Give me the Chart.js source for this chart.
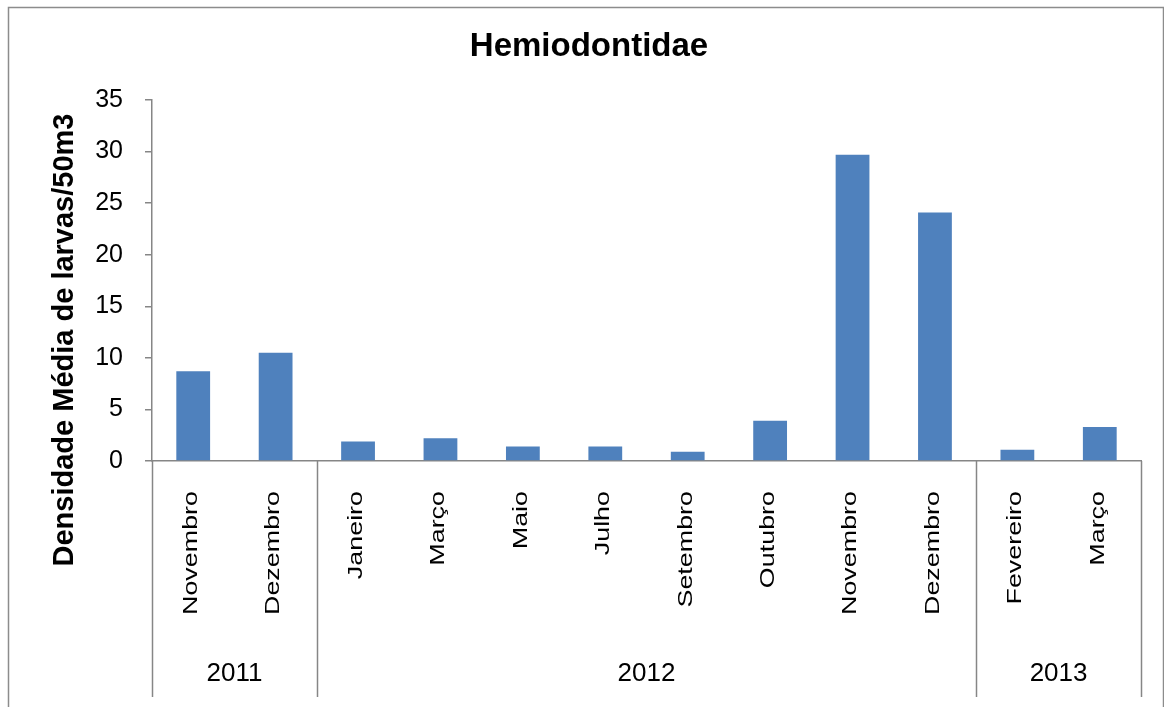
<!DOCTYPE html>
<html lang="pt">
<head>
<meta charset="utf-8">
<title>Hemiodontidae</title>
<script src="https://cdn.jsdelivr.net/npm/chart.js@4"></script>
<style>
    html, body { margin: 0; padding: 0; background: #fff; }
    canvas { display: block; }
</style>
</head>
<body>
<canvas id="densChart" width="1164" height="707"></canvas>
<script>
// meses amostrados e densidade média (larvas/50m3)
const meses = ['Novembro', 'Dezembro', 'Janeiro', 'Março', 'Maio', 'Julho',
    'Setembro', 'Outubro', 'Novembro', 'Dezembro', 'Fevereiro', 'Março'];
const densidade = [8.7, 10.5, 1.9, 2.2, 1.4, 1.4, 0.9, 3.9, 29.7, 24.1, 1.1, 3.3];

// agrupamento dos meses por ano
const anos = ['2011', '2012', '2013'];
const mesesPorAno = [2, 8, 2];

const eixoY = { min: 0, max: 35, passo: 5 };

const titulo = 'Hemiodontidae';
const tituloEixoY = 'Densidade Média de larvas/50m3';

const corEixo = '#868686';
const fonte = '"Liberation Sans", Arial, sans-serif';

// título, rótulos em dois níveis (mês / ano) e moldura externa
const eixoCategorias = {
    id: 'eixoCategorias',
    afterDraw(chart) {
        const ctx = chart.ctx;
        const x = chart.scales.x;
        const area = chart.chartArea;
        const base = area.bottom;
        const fundo = 697;

        ctx.save();

        // moldura
        ctx.strokeStyle = '#8c8c8c';
        ctx.lineWidth = 1.5;
        ctx.strokeRect(8.5, 7.5, 1155, 720);

        // título
        ctx.fillStyle = '#000';
        ctx.font = 'bold 33px ' + fonte;
        ctx.textAlign = 'center';
        ctx.textBaseline = 'middle';
        ctx.fillText(titulo, 589, 47);

        // linhas separadoras dos anos
        ctx.strokeStyle = corEixo;
        ctx.lineWidth = 1.5;
        let idx = 0;
        const passoX = x.getPixelForValue(1) - x.getPixelForValue(0);
        const divisorias = [x.getPixelForValue(0) - passoX / 2];
        mesesPorAno.forEach(n => {
            idx += n;
            divisorias.push(x.getPixelForValue(idx - 1) + passoX / 2);
        });
        divisorias.forEach(px => {
            ctx.beginPath();
            ctx.moveTo(Math.round(px) + 0.5, base);
            ctx.lineTo(Math.round(px) + 0.5, fundo);
            ctx.stroke();
        });

        // meses, girados
        ctx.font = '21px ' + fonte;
        ctx.textAlign = 'right';
        meses.forEach((m, i) => {
            ctx.save();
            ctx.translate(x.getPixelForValue(i) - 2, 491);
            ctx.rotate(-Math.PI / 2);
            ctx.scale(1.28, 1);
            ctx.fillText(m, 0, 0);
            ctx.restore();
        });

        // anos
        ctx.font = '26px ' + fonte;
        ctx.textAlign = 'center';
        anos.forEach((ano, k) => {
            ctx.fillText(ano, (divisorias[k] + divisorias[k + 1]) / 2, 674);
        });

        // título do eixo y
        ctx.font = 'bold 29px ' + fonte;
        ctx.save();
        ctx.translate(65, 340);
        ctx.rotate(-Math.PI / 2);
        ctx.fillText(tituloEixoY, 0, 0);
        ctx.restore();

        ctx.restore();
    }
};

const ctx = document.getElementById('densChart').getContext('2d');

new Chart(ctx, {
    type: 'bar',
    data: {
        labels: meses,
        datasets: [{
            label: titulo,
            data: densidade,
            backgroundColor: '#4F81BD',
            borderWidth: 0,
            barPercentage: 0.41,
            categoryPercentage: 1.0
        }]
    },
    options: {
        responsive: false,
        animation: false,
        layout: {
            padding: { left: 0, right: 23, top: 100, bottom: 0 }
        },
        scales: {
            x: {
                grid: { display: false },
                border: { display: true, color: corEixo, width: 1.5 },
                ticks: { display: false },
                afterFit: function (scale) {
                    scale.height = 246;
                }
            },
            y: {
                min: eixoY.min,
                max: eixoY.max,
                grid: {
                    display: true,
                    drawOnChartArea: false,
                    drawTicks: true,
                    tickLength: 7,
                    color: corEixo,
                    lineWidth: 1.5
                },
                border: { display: true, color: corEixo, width: 1.5 },
                ticks: {
                    stepSize: eixoY.passo,
                    padding: 22,
                    color: '#000',
                    font: { family: fonte, size: 25 }
                },
                afterFit: function (scale) {
                    scale.width = 152;
                }
            }
        },
        plugins: {
            legend: { display: false },
            tooltip: { enabled: false },
            title: { display: false }
        }
    },
    plugins: [eixoCategorias]
});
</script>
</body>
</html>
